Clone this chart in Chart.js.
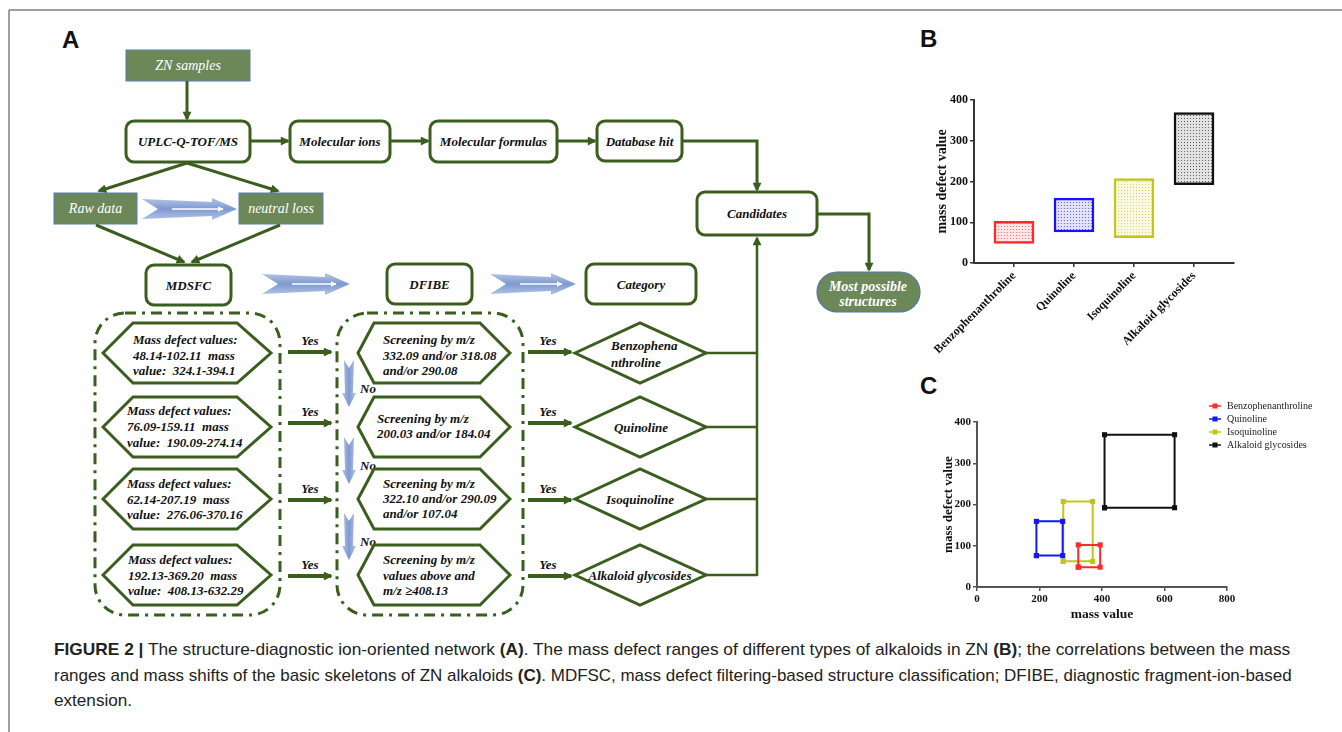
<!DOCTYPE html>
<html lang="en">
<head>
<meta charset="UTF-8" />
<title>ZN alkaloids: network and mass defect ranges</title>
<script src="https://cdn.jsdelivr.net/npm/chart.js"></script>
<style>
  body { margin: 0; background: #fff; width: 1342px; height: 732px; overflow: hidden; position: relative; }
  #frame { position: absolute; left: 0; top: 0; }
  canvas { position: absolute; }
  #chartB { left: 928px; top: 90px; }
  #chartC { left: 934px; top: 400px; }
  #legendC { position: absolute; left: 1208px; top: 399px; font-family: "Liberation Serif", serif; font-size: 10px; color: #222; }
  #legendC div { height: 13px; display: flex; align-items: center; white-space: nowrap; }
  #legendC svg { margin-right: 5px; }
  .caption { position: absolute; left: 54px; font-family: "Liberation Sans", Arial, sans-serif; font-size: 17px; line-height: 20px; color: #222; white-space: nowrap; transform-origin: 0 0; }
  .t { font-family: "Liberation Serif", serif; font-weight: bold; font-style: italic; font-size: 13px; fill: #111; }
  .w { font-family: "Liberation Serif", serif; font-style: italic; font-size: 14px; fill: #fff; }
  .lab { font-family: "Liberation Sans", Arial, sans-serif; font-weight: bold; font-size: 24px; fill: #111; }
</style>
</head>
<body>
<svg id="frame" width="1342" height="732" xmlns="http://www.w3.org/2000/svg">
  <defs>
    <marker id="ah" viewBox="0 0 10 10" refX="8" refY="5" markerWidth="10" markerHeight="9" markerUnits="userSpaceOnUse" orient="auto">
      <path d="M0,0 L10,5 L0,10 z" fill="#3b5e1f" />
    </marker>
    <marker id="ahw" viewBox="0 0 10 10" refX="9" refY="5" markerWidth="6" markerHeight="6" markerUnits="userSpaceOnUse" orient="auto">
      <path d="M0,0 L10,5 L0,10 z" fill="#fff" />
    </marker>
    <linearGradient id="blueg" x1="0" y1="0" x2="0" y2="1">
      <stop offset="0" stop-color="#b3c5e8" />
      <stop offset="0.5" stop-color="#7f99d0" />
      <stop offset="1" stop-color="#b3c5e8" />
    </linearGradient>
    <linearGradient id="bluev" x1="0" y1="0" x2="1" y2="0">
      <stop offset="0" stop-color="#b3c5e8" />
      <stop offset="0.5" stop-color="#7f99d0" />
      <stop offset="1" stop-color="#b3c5e8" />
    </linearGradient>
  </defs>
  <g id="flow"></g>
</svg>

<canvas id="chartB" width="322" height="290"></canvas>
<canvas id="chartC" width="316" height="230"></canvas>
<div id="legendC"></div>

<div class="caption" id="cap1"><b>FIGURE 2 |</b> The structure-diagnostic ion-oriented network <b>(A)</b>. The mass defect ranges of different types of alkaloids in ZN <b>(B)</b>; the correlations between the mass</div>
<div class="caption" id="cap2">ranges and mass shifts of the basic skeletons of ZN alkaloids <b>(C)</b>. MDFSC, mass defect filtering-based structure classification; DFIBE, diagnostic fragment-ion-based</div>
<div class="caption" id="cap3">extension.</div>

<script>
  // values (mass defect / mass ranges of each skeleton)
  const categories = ["Benzophenanthroline", "Quinoline", "Isoquinoline", "Alkaloid glycosides"]
  const defectLow = [48.14, 76.09, 62.14, 192.13]
  const defectHigh = [102.11, 159.11, 207.19, 369.2]
  const massLow = [324.1, 190.09, 276.06, 408.13]
  const massHigh = [394.1, 274.14, 370.16, 632.29]
  const defectTicks = [0, 100, 200, 300, 400]
  const massTicks = [0, 200, 400, 600, 800]
  const colors = ["#ff2a2a", "#1414ff", "#c4c41a", "#111111"]

  const green = "#3b5e1f"
  const fillGreen = "#6c8859"

  // ---------- panel A (flow diagram) ----------
  let s = ""
  const line = (pts, arrow = true, w = 3) =>
    `<polyline points="${pts.map((p) => p.join(",")).join(" ")}" fill="none" stroke="${green}" stroke-width="${w}" ${arrow ? 'marker-end="url(#ah)"' : ""}/>`
  const box = (x, y, w, h, label) =>
    `<rect x="${x}" y="${y}" width="${w}" height="${h}" rx="8" fill="#fff" stroke="${green}" stroke-width="3"/>` +
    `<text class="t" x="${x + w / 2}" y="${y + h / 2}" dy="0.35em" text-anchor="middle">${label}</text>`
  const gbox = (x, y, w, h, label) =>
    `<rect x="${x}" y="${y}" width="${w}" height="${h}" fill="${fillGreen}" stroke="#5a7db5" stroke-width="1"/>` +
    `<text class="w" x="${x + w / 2}" y="${y + h / 2}" dy="0.35em" text-anchor="middle">${label}</text>`
  const fatArrow = (x0, x1, c) =>
    `<polygon points="${x0},${c - 10} ${x1 - 25},${c - 7} ${x1 - 25},${c - 11} ${x1},${c} ${x1 - 25},${c + 11} ${x1 - 25},${c + 7} ${x0},${c + 10} ${x0 + 16},${c}" fill="url(#blueg)"/>` +
    `<line x1="${x0 + 30}" y1="${c}" x2="${x1 - 14}" y2="${c}" stroke="#fff" stroke-width="1.5" marker-end="url(#ahw)"/>`
  const noArrow = (x, y0, y1) =>
    `<polygon points="${x - 5},${y0} ${x},${y0 + 8} ${x + 5},${y0} ${x + 4},${y1 - 14} ${x + 7},${y1 - 14} ${x},${y1} ${x - 7},${y1 - 14} ${x - 4},${y1 - 14}" fill="url(#bluev)"/>`
  const txt = (x, y, str, anchor = "start") =>
    `<text class="t" x="${x}" y="${y}" dy="0.35em" text-anchor="${anchor}" xml:space="preserve">${str}</text>`

  s += `<line x1="9" y1="10" x2="1342" y2="10" stroke="#808080" stroke-width="1.5"/>`
  s += `<line x1="9" y1="10" x2="9" y2="732" stroke="#808080" stroke-width="1.5"/>`
  s += `<text class="lab" x="62" y="48">A</text><text class="lab" x="920" y="47">B</text><text class="lab" x="920" y="394">C</text>`

  s += gbox(126, 50, 124, 31, "ZN samples")
  s += line([[187, 81], [187, 119]])
  s += box(126, 121, 124, 41, "UPLC-Q-TOF/MS")
  s += line([[251, 141], [288, 141]])
  s += box(290, 121, 100, 41, "Molecular ions")
  s += line([[391, 141], [428, 141]])
  s += box(430, 121, 127, 41, "Molecular formulas")
  s += line([[558, 141], [595, 141]])
  s += box(597, 121, 85, 40, "Database hit")
  s += line([[683, 141], [757, 141], [757, 190]])
  s += box(697, 192, 120, 43, "Candidates")
  s += line([[818, 214], [869, 214], [869, 270]])
  s += `<rect x="817" y="272" width="103" height="40" rx="20" fill="${fillGreen}" stroke="#4f74b0" stroke-width="1.2"/>`
  s += `<text class="w" font-weight="bold" x="868" y="286" dy="0.35em" text-anchor="middle">Most possible</text>`
  s += `<text class="w" font-weight="bold" x="868" y="301" dy="0.35em" text-anchor="middle">structures</text>`

  s += line([[187, 163], [99, 191]])
  s += line([[187, 163], [278, 191]])
  s += gbox(54, 193, 83, 31, "Raw data")
  s += gbox(239, 193, 84, 31, "neutral loss")
  s += fatArrow(142, 237, 209)
  s += line([[96, 225], [184, 262]])
  s += line([[280, 225], [192, 262]])
  s += box(146, 265, 85, 40, "MDSFC")
  s += fatArrow(262, 350, 284)
  s += box(387, 264, 85, 40, "DFIBE")
  s += fatArrow(490, 576, 284)
  s += box(586, 264, 110, 40, "Category")

  // dash-dot containers
  const dd = 'fill="none" stroke="' + green + '" stroke-width="3" stroke-dasharray="11 6 3 6"'
  s += `<rect x="95" y="313" width="185" height="302" rx="30" ${dd}/>`
  s += `<rect x="337" y="313" width="186" height="302" rx="30" ${dd}/>`

  const rows = [
    { c: 353, a: 352, lx: 133, ly: [339, 355, 370], lt: ["Mass defect values:", "48.14-102.11  mass", "value:  324.1-394.1"],
      rx: 383, ry: [339, 355, 370], rt: ["Screening by m/z", "332.09 and/or 318.08", "and/or 290.08"] },
    { c: 427, a: 423, lx: 127, ly: [410, 426, 442], lt: ["Mass defect values:", "76.09-159.11  mass", "value:  190.09-274.14"],
      rx: 377, ry: [418, 433], rt: ["Screening by m/z", "200.03 and/or 184.04"] },
    { c: 499, a: 500, lx: 127, ly: [483, 499, 514], lt: ["Mass defect values:", "62.14-207.19  mass", "value:  276.06-370.16"],
      rx: 383, ry: [483, 498, 513], rt: ["Screening by m/z", "322.10 and/or 290.09", "and/or 107.04"] },
    { c: 575, a: 576, lx: 128, ly: [559, 575, 590], lt: ["Mass defect values:", "192.13-369.20  mass", "value:  408.13-632.29"],
      rx: 383, ry: [559, 575, 590], rt: ["Screening by m/z", "values above and", "m/z \u2265408.13"] },
  ]
  const hexStyle = `fill="#fff" stroke="${green}" stroke-width="3"`
  rows.forEach((r, i) => {
    const c = r.c
    s += `<polygon points="103,${c} 133,${c - 30} 237,${c - 30} 271,${c} 237,${c + 30} 133,${c + 30}" ${hexStyle}/>`
    r.lt.forEach((t, k) => (s += txt(r.lx, r.ly[k], t)))
    s += `<polygon points="358,${c} 374,${c - 30} 480,${c - 30} 510,${c} 480,${c + 30} 374,${c + 30}" ${hexStyle}/>`
    r.rt.forEach((t, k) => (s += txt(r.rx, r.ry[k], t)))
    s += `<polygon points="575,${c} 640,${c - 30} 706,${c} 640,${c + 30}" ${hexStyle}/>`
    s += line([[706, c], [757, c]], false, 2.5)
    s += line([[288, r.a], [331, r.a]], true, 4)
    s += line([[528, r.a], [571, r.a]], true, 4)
    s += txt(310, r.a - 12, "Yes", "middle")
    s += txt(548, r.a - 12, "Yes", "middle")
    if (i < 3) {
      const y0 = [360, 437, 513][i]
      s += noArrow(349, y0, y0 + 47)
      s += txt(360, y0 + 28, "No")
    }
  })
  s += txt(611, 345, "Benzophena") + txt(611, 362, "nthroline")
  s += txt(641, 427, "Quinoline", "middle")
  s += txt(640, 499, "Isoquinoline", "middle")
  s += txt(640, 575, "Alkaloid glycosides", "middle")
  s += line([[757, 576], [757, 238]], true, 2.5)
  document.getElementById("flow").innerHTML = s

  // ---------- panels B and C (Chart.js) ----------
  function dotPattern(color) {
    const c = document.createElement("canvas")
    c.width = 3
    c.height = 3
    const g = c.getContext("2d")
    g.fillStyle = "#fff"
    g.fillRect(0, 0, 3, 3)
    g.globalAlpha = 0.12
    g.fillStyle = color
    g.fillRect(0, 0, 3, 3)
    g.globalAlpha = 0.6
    g.fillRect(1, 1, 1, 1)
    return g.createPattern(c, "repeat")
  }

  const serif = "Liberation Serif"
  const axisColor = "#333"

  new Chart(document.getElementById("chartB"), {
    type: "bar",
    data: {
      datasets: [
        {
          data: categories.map((_, i) => ({ x: i, y: [defectLow[i], defectHigh[i]] })),
          backgroundColor: colors.map(dotPattern),
          borderColor: colors,
          borderWidth: 2.5,
          borderSkipped: false,
          barThickness: 40,
        },
      ],
    },
    options: {
      responsive: false,
      animation: false,
      devicePixelRatio: 1,
      layout: { padding: { top: 10, right: 16, left: 0, bottom: 0 } },
      plugins: { legend: { display: false }, tooltip: { enabled: false } },
      scales: {
        x: {
          type: "linear",
          offset: false,
          min: -2 / 3,
          max: 3 + 2 / 3,
          afterBuildTicks: (sc) => { sc.ticks = categories.map((_, i) => ({ value: i })) },
          afterFit: (sc) => { sc.height = 117; sc.paddingLeft = 0; sc.paddingRight = 0 },
          grid: { offset: false, drawOnChartArea: false, tickLength: 4, color: axisColor, lineWidth: 1.5 },
          border: { color: axisColor, width: 2 },
          ticks: {
            autoSkip: false, minRotation: 45, maxRotation: 45, padding: 2, color: "#111",
            font: { family: serif, weight: "bold", size: 12 },
            callback: (v) => categories[v],
          },
        },
        y: {
          min: 0,
          max: 400,
          afterBuildTicks: (sc) => { sc.ticks = defectTicks.map((v) => ({ value: v })) },
          afterFit: (sc) => { sc.width = 46; sc.paddingTop = 0; sc.paddingBottom = 0 },
          grid: { drawOnChartArea: false, tickLength: 4, color: axisColor, lineWidth: 1.5 },
          border: { color: axisColor, width: 2 },
          ticks: { padding: 2, color: "#111", font: { family: serif, weight: "bold", size: 12 } },
          title: { display: true, text: "mass defect value", color: "#111", padding: { top: 5.6, bottom: 0 },
            font: { family: serif, weight: "bold", size: 14 } },
        },
      },
    },
  })

  const corners = (i) => [
    { x: massLow[i], y: defectLow[i] },
    { x: massLow[i], y: defectHigh[i] },
    { x: massHigh[i], y: defectHigh[i] },
    { x: massHigh[i], y: defectLow[i] },
    { x: massLow[i], y: defectLow[i] },
  ]

  new Chart(document.getElementById("chartC"), {
    type: "scatter",
    data: {
      datasets: categories.map((name, i) => ({
        label: name,
        data: corners(i),
        showLine: true,
        borderColor: colors[i],
        backgroundColor: colors[i],
        borderWidth: 2,
        pointStyle: "rect",
        pointRadius: 3.6,
        pointBorderWidth: 0,
      })),
    },
    options: {
      responsive: false,
      animation: false,
      devicePixelRatio: 1,
      layout: { padding: { top: 22, right: 23, left: 0, bottom: 0 } },
      plugins: { legend: { display: false }, tooltip: { enabled: false } },
      scales: {
        x: {
          min: 0,
          max: 800,
          afterBuildTicks: (sc) => { sc.ticks = massTicks.map((v) => ({ value: v })) },
          afterFit: (sc) => { sc.height = 43; sc.paddingLeft = 0; sc.paddingRight = 0 },
          grid: { drawOnChartArea: false, tickLength: 4, color: "#555", lineWidth: 1.5 },
          border: { color: "#555", width: 2 },
          ticks: { padding: 2, color: "#111", font: { family: serif, weight: "bold", size: 11 } },
          title: { display: true, text: "mass value", color: "#111", padding: { top: 0, bottom: 7 },
            font: { family: serif, weight: "bold", size: 13.5 } },
        },
        y: {
          min: 0,
          max: 400,
          afterBuildTicks: (sc) => { sc.ticks = defectTicks.map((v) => ({ value: v })) },
          afterFit: (sc) => { sc.width = 43; sc.paddingTop = 0; sc.paddingBottom = 0 },
          grid: { drawOnChartArea: false, tickLength: 4, color: "#555", lineWidth: 1.5 },
          border: { color: "#555", width: 2 },
          ticks: { padding: 2, color: "#111", font: { family: serif, weight: "bold", size: 11 } },
          title: { display: true, text: "mass defect value", color: "#111", padding: { top: 7, bottom: 0 },
            font: { family: serif, weight: "bold", size: 13 } },
        },
      },
    },
  })

  // legend for C
  const legend = document.getElementById("legendC")
  categories.forEach((name, i) => {
    const row = document.createElement("div")
    row.innerHTML =
      `<svg width="14" height="8"><line x1="1" y1="4" x2="13" y2="4" stroke="${colors[i]}" stroke-width="1.5"/>` +
      `<rect x="4.5" y="1.5" width="5" height="5" fill="${colors[i]}"/></svg>${name}`
    legend.appendChild(row)
  })

  // caption lines
  const capTops = [640, 666, 691]
  const c1 = document.getElementById("cap1"), c2 = document.getElementById("cap2"), c3 = document.getElementById("cap3")
  const k1 = 1236 / c1.offsetWidth, k2 = 1238 / c2.offsetWidth
  ;[c1, c2, c3].forEach((el, i) => {
    el.style.top = capTops[i] + "px"
    el.style.transform = `scaleX(${[k1, k2, (k1 + k2) / 2][i]})`
  })
</script>
</body>
</html>
